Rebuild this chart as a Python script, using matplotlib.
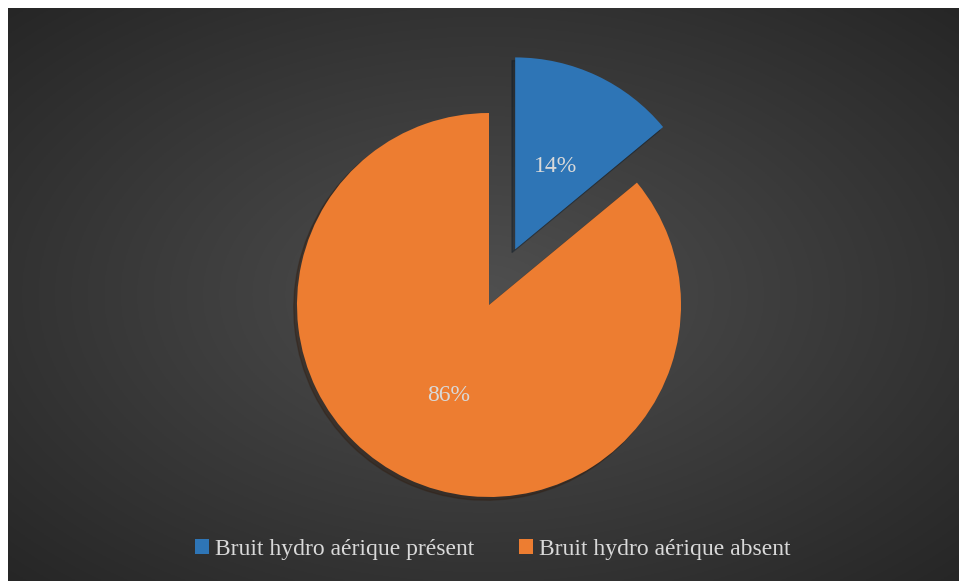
import matplotlib
matplotlib.use('Agg')

import numpy as np
import matplotlib.pyplot as plt

labels = ["Bruit hydro aérique présent", "Bruit hydro aérique absent"]
values = [14, 86]
colors = ["#2e75b6", "#ed7d31"]

W, H = 959, 581
fig = plt.figure(figsize=(W / 100, H / 100), dpi=100)
fig.patch.set_facecolor("white")

# dark radial gradient background
bg = fig.add_axes([8 / W, 0, (W - 8) / W, (H - 8) / H])
yy, xx = np.mgrid[-1:1:300j, -1:1:500j]
rr = np.sqrt(xx ** 2 + yy ** 2) / np.sqrt(2)
shade = 0.31 - 0.16 * rr
bg.imshow(np.dstack([shade] * 3), aspect="auto", extent=[0, 1, 0, 1])
bg.axis("off")

# pie
cx, cy, r = 489, H - 305, 192
lim = 1.4
side = 2 * lim * r
ax = fig.add_axes([(cx - side / 2) / W, (cy - side / 2) / H, side / W, side / H])
wedges, texts, autotexts = ax.pie(
    values, colors=colors, startangle=90, counterclock=False,
    explode=[0.32, 0], autopct="%1.0f%%", pctdistance=0.5,
    shadow={"ox": -0.012, "oy": -0.012, "shade": 0.8, "alpha": 0.35},
    textprops={"fontsize": 17, "color": "#d9d9d9", "family": "Liberation Serif"},
)
for t in autotexts:
    x, y = t.get_position()
    t.set_position((x, y - 0.02))
ax.set_xlim(-lim, lim)
ax.set_ylim(-lim, lim)
ax.set_aspect("equal")
ax.axis("off")

leg = fig.legend(wedges, labels, loc="center", bbox_to_anchor=(493 / W, 1 - 549 / H),
                 ncol=2, frameon=False, handlelength=0.6, handleheight=0.6,
                 handletextpad=0.25, columnspacing=1.9,
                 prop={"family": "Liberation Serif", "size": 17})
for t in leg.get_texts():
    t.set_color("#d9d9d9")

fig.savefig("out.png", dpi=100, facecolor=fig.get_facecolor())
plt.close(fig)
